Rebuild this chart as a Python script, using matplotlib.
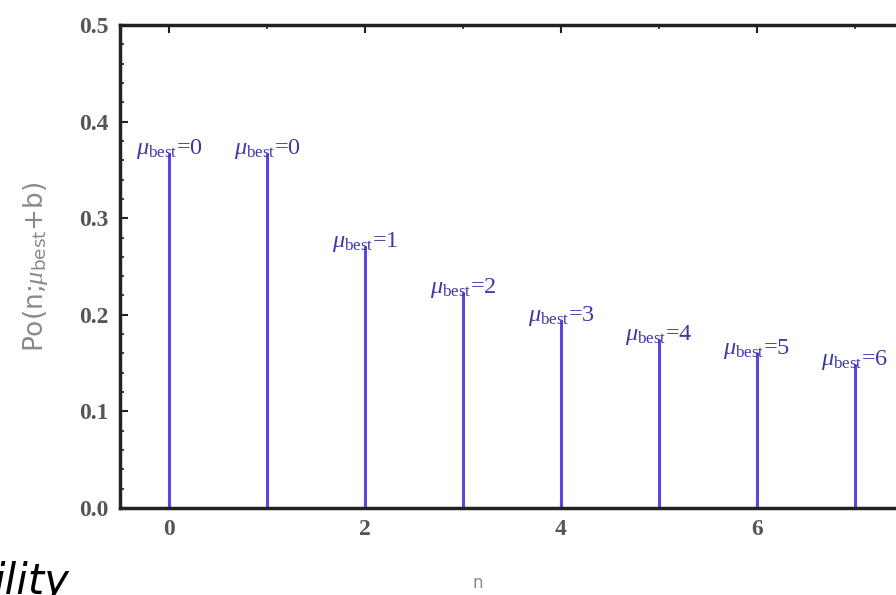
import matplotlib.pyplot as plt
from matplotlib.ticker import MultipleLocator

# data
n_values = [0, 1, 2, 3, 4, 5, 6, 7]
po_values = [0.368, 0.368, 0.271, 0.224, 0.195, 0.175, 0.161, 0.149]
mu_best = [0, 0, 1, 2, 3, 4, 5, 6]
x_ticks = [0, 2, 4, 6]
y_ticks = [0.0, 0.1, 0.2, 0.3, 0.4, 0.5]

stem_color = "#5a48dc"
label_color = "#3c3aa8"
tick_color = "#555555"

# serif math for the stem labels, sans subscript in the axis label
plt.rcParams["mathtext.fontset"] = "custom"
plt.rcParams["mathtext.rm"] = "Liberation Serif"
plt.rcParams["mathtext.it"] = "Liberation Serif:italic"
plt.rcParams["mathtext.sf"] = "DejaVu Sans"

fig = plt.figure(figsize=(8.96, 5.95), dpi=100)
ax = fig.add_axes([120 / 896, 1 - 508 / 595, 784 / 896, 483 / 595])

# stems
ax.vlines(n_values, 0, po_values, color=stem_color, lw=2.2)

# labels on top of each stem
for n, p, m in zip(n_values, po_values, mu_best):
    ax.text(n, p + 0.004, r"$\mu_{\rm best}$=%d" % m, ha="center", va="center",
            color=label_color, fontsize=17.5, family="Liberation Serif")

ax.set_xlim(-0.5, 7.5)
ax.set_ylim(0, 0.5)
ax.set_xticks(x_ticks)
ax.set_yticks(y_ticks)
ax.set_yticklabels(["%.1f" % v for v in y_ticks])
ax.xaxis.set_minor_locator(MultipleLocator(1))
ax.yaxis.set_minor_locator(MultipleLocator(0.02))
ax.tick_params(which="both", direction="in", top=True, right=True,
               colors="#222222", labelcolor=tick_color)
ax.tick_params(which="major", length=6, width=1.5, labelsize=17, pad=8)
ax.tick_params(which="minor", length=3, width=1.2)
for lab in ax.get_xticklabels() + ax.get_yticklabels():
    lab.set_family("Liberation Serif")
    lab.set_fontweight("bold")
for sp in ax.spines.values():
    sp.set_linewidth(2.5)
    sp.set_color("#222222")

fig.text(35 / 896, 1 - 267 / 595, r"Po(n;$\mu_{\mathsf{best}}$+b)", rotation=90,
         ha="center", va="center", color="#8a8a8a", fontsize=19)
fig.text(478 / 896, 1 - 583 / 595, "n", ha="center", va="center",
         color="#8a8a8a", fontsize=12)
fig.text(-6 / 896, 1 - 594 / 595, "ility", ha="left", va="baseline",
         fontsize=30, style="italic", color="black")

fig.savefig("out.png", dpi=100)
